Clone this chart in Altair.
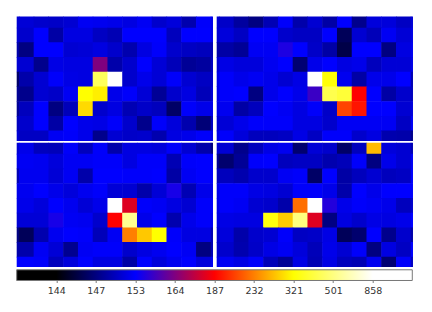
import altair as alt
import pandas as pd

top_left = [
 [151,151.1,150.6,150.4,150.9,152.5,152.3,152,151.6,152.5,150.6,151.3,149.2,152.8,152],
 [151,150.6,153,148.8,151.6,151.6,150.2,149.5,153,153,153,149.9,153,153,152],
 [149,147.1,153,153,150.9,151.1,151.6,150.6,149.2,151.6,152.8,150.6,150.2,149.9,149.5],
 [151,150.9,147.6,151.8,151.6,151.6,164,149,150.6,153,151.1,149.7,148.1,148.5,150],
 [146.4,149,150.9,152.8,151.8,151.6,450,1000,150.6,152,151.1,152.8,150.9,150.2,150.4],
 [148,147.6,150.9,150.4,152.5,321,310,152,152.8,151.1,148.1,150.6,151.6,149.7,151],
 [148,149.9,153,147.1,149.7,295,150.6,151.6,149.5,150.4,149.9,146.4,152.8,152,152],
 [150,150.6,153,148.8,153,152,151.8,152.8,150.6,147.6,152.8,151.3,149.2,146.8,150],
 [151,150.2,150.2,152.5,152.8,152,147.6,150.9,150.4,150.6,149.2,151.6,152,152.8,152],
]
top_right = [
 [151,150.4,148.5,147.1,149.5,152.8,149,150.9,148.8,153,147.6,151.3,151.3,150.2,151.1],
 [151,151.3,150.2,153,153,150.6,150.2,150.2,153,146.1,150.9,149.7,152.5,151.1,151.8],
 [149,148.8,148.1,152.5,152.5,155.5,153,150.4,148.8,145.7,153,153,147.1,151.6,152.3],
 [151,151.8,151.3,151.3,152.3,153,146.7,152,153,151.6,152,149.9,151.1,151.1,151.8],
 [152,152.8,152,152.5,152,150.9,151.8,1000,330,152.3,148.8,152,152,153,149.5],
 [152,152.8,153,147.1,152,153,152,158,430,400,187,153,148.8,150.6,149.9],
 [152,152.3,148.8,149.9,153,152.5,151.6,152.8,150.4,211,194,153,153,150.9,151.3],
 [151,151.1,152,152.8,152.8,152.8,151.6,151.6,150.6,152.5,152.5,152.5,152.5,150.2,152.5],
 [152,152.8,151.3,149.9,149.9,150.2,151.8,150.2,152.8,152.8,150.6,151.6,149.2,149,147.6],
]
bottom_left = [
 [151,152,149.9,149.7,152.8,149.9,152.8,149,151.6,151.6,151.3,152.8,150.9,149,147.1],
 [152,152.5,152.3,151.3,152.5,152.5,152.8,152.8,151.6,152.8,152.8,149.5,152.8,153,153],
 [149.5,152.3,152.3,151.1,152.5,149,153,153,152.8,152.8,153,148.8,152.5,153,152.8],
 [152,152.3,153,152,151.3,152.3,152.8,151.1,150.9,149,151.1,155,149.5,152,152],
 [152,152,151.3,153,152.3,151.1,152,1000,181,152.8,152.5,151.6,150.9,152.8,152.8],
 [151,151.1,151.1,155,152.5,152.3,150.6,187,550,152,153,149.2,152,152.8,152.3],
 [147.1,146.1,149.2,152.3,153,152.8,149.7,152.5,232,283,321,152.8,151.6,151.6,149.5],
 [149,149,152.5,151.1,147.8,152.5,152.8,152.8,150.6,151.6,152.3,153,152.5,147.1,149.5],
 [153,153,152.8,149.9,151.3,153,151.6,151.6,148.8,153,151.3,152.3,153,151.3,152.3],
]
bottom_right = [
 [151,150.9,147.6,149.9,151.8,152.3,146.6,151.1,150.6,146.4,149.9,274,151.3,150.9,149.5],
 [148,146.6,148.1,152.8,153,149.9,150.2,150.2,149.2,149.7,152.8,147.1,152,150.9,152.5],
 [150,149.9,149.2,150.6,150.6,152.5,152.8,146.4,153,148.8,149.9,150.9,149.9,150.2,152.8],
 [152,152.8,152.8,151.8,151.6,150.9,152.8,152.8,152,149,153,152,153,153,152.8],
 [152,152.8,152.5,150.9,150.6,149,226,1000,156,152,152.8,152.5,152,149.9,150.6],
 [152,151.8,151.6,151.6,340,285,500,181,147.1,151.6,150.6,151.8,151.6,152,153],
 [151,151.3,149,150.6,150.9,152.8,150.2,150.4,151.8,146.1,146.6,153,147.6,150.6,149],
 [151,150.6,149.2,150.4,151.8,152.5,151.3,149.7,152,150.9,152.8,147.1,151.6,150.2,152.8],
 [152,152.5,151.8,152.8,149.7,148.1,151.8,149.5,151.8,149.9,149.5,152.3,146.7,152.8,150.2],
]

tick_labels = ["144", "147", "153", "164", "187", "232", "321", "501", "858"]
tick_positions = [0.1, 0.2, 0.3, 0.4, 0.5, 0.6, 0.7, 0.8, 0.9]
scale_values = [144, 147, 153, 164, 187, 232, 321, 501, 858]
scale_colors = ["#000000", "#00007f", "#0000ff", "#7f007f", "#ff0000",
                "#ff7f00", "#ffff00", "#ffff7f", "#ffffff"]
bar_offsets = [0, 0.1, 0.3, 0.5, 0.7, 0.9, 1]
bar_colors = ["#000000", "#000000", "#0000ff", "#ff0000", "#ffff00", "#ffffff", "#ffffff"]

PANEL_W, PANEL_H = 196.3, 124.3
color_scale = alt.Scale(domain=scale_values, range=scale_colors, interpolate="rgb", clamp=True)


def panel(grid):
    rows = [
        {"col": c, "col2": c + 1.04, "row": r, "row2": r + 1.04, "value": v}
        for r, line in enumerate(grid)
        for c, v in enumerate(line)
    ]
    return (
        alt.Chart(pd.DataFrame(rows))
        .mark_rect(clip=True, strokeWidth=0)
        .encode(
            x=alt.X("col:Q", axis=None, scale=alt.Scale(domain=[0.85, 14.15], nice=False, zero=False)),
            x2="col2:Q",
            y=alt.Y("row:Q", axis=None, scale=alt.Scale(domain=[8.7, 0.25], nice=False, zero=False)),
            y2="row2:Q",
            color=alt.Color("value:Q", scale=color_scale, legend=None),
        )
        .properties(width=PANEL_W, height=PANEL_H)
    )


gradient = alt.LinearGradient(
    gradient="linear",
    stops=[alt.GradientStop(offset=o, color=c) for o, c in zip(bar_offsets, bar_colors)],
    x1=0, x2=1, y1=0, y2=0,
)
label_array = "[" + ",".join(f"'{t}'" for t in tick_labels) + "]"
colorbar = (
    alt.Chart(pd.DataFrame({"start": [0], "end": [1]}))
    .mark_rect(color=gradient, stroke="#777777", strokeWidth=1)
    .encode(
        x=alt.X(
            "start:Q",
            title=None,
            scale=alt.Scale(domain=[0, 1], nice=False, zero=False),
            axis=alt.Axis(
                values=tick_positions,
                labelExpr=label_array + "[round(datum.value*10)-1]",
                domain=False, grid=False, ticks=True, tickSize=2, tickColor="#777777",
                labelFont="DejaVu Sans", labelFontSize=9.5, labelColor="#333333",
                labelPadding=3.5,
            ),
        ),
        x2="end:Q",
    )
    .properties(width=395.6, height=10.7)
)

top = alt.hconcat(panel(top_left), panel(top_right), spacing=3)
bottom = alt.hconcat(panel(bottom_left), panel(bottom_right), spacing=3)
panels = alt.vconcat(top, bottom, spacing=1.2)
chart = (
    alt.vconcat(panels, colorbar, spacing=1.2)
    .properties(padding={"left": 7.7, "top": 8.6, "right": 5, "bottom": 5}, background="white")
    .configure_view(strokeWidth=0)
    .configure_concat(spacing=0)
)
chart.save("out.html", embed_options={"renderer": "svg", "actions": False})
